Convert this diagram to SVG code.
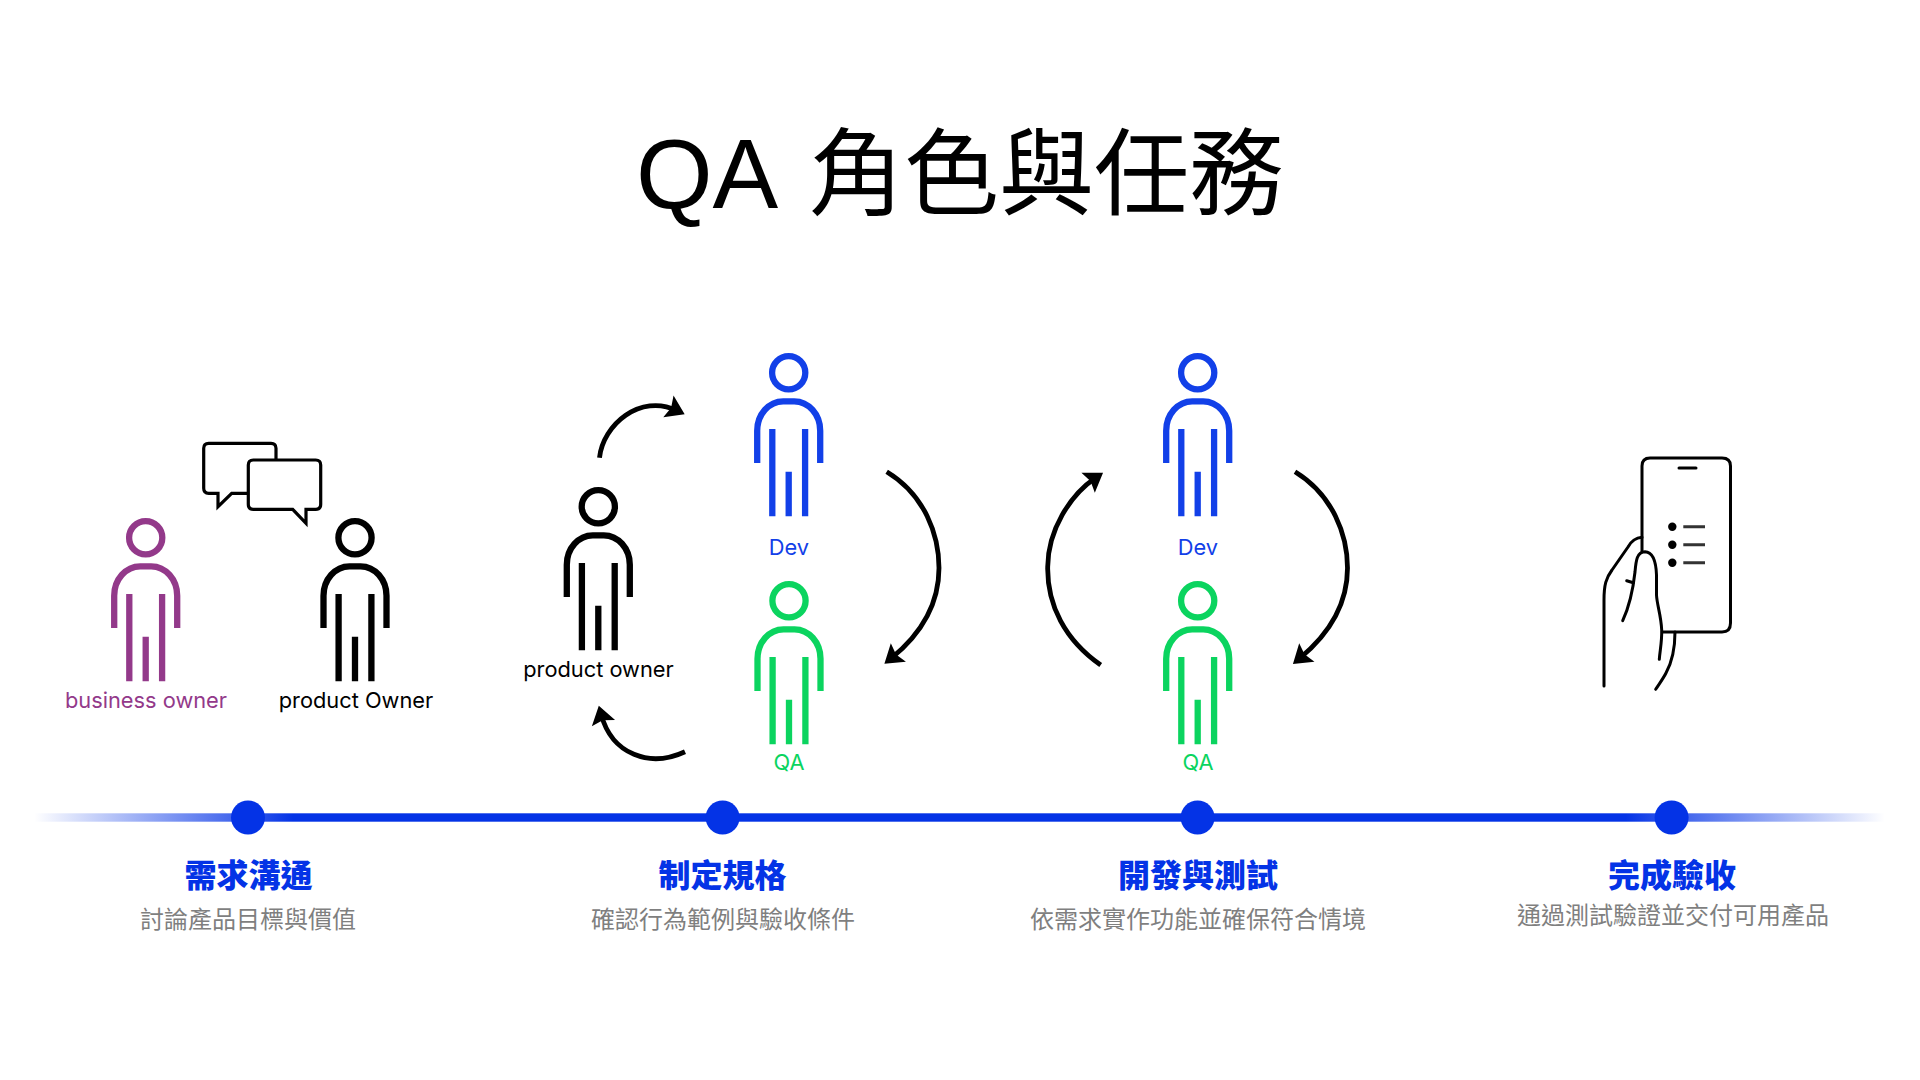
<svg xmlns="http://www.w3.org/2000/svg" width="1920" height="1080" viewBox="0 0 1920 1080">
<style>
text{font-family:"Liberation Sans","Noto Sans CJK TC",sans-serif;text-anchor:middle}
.lab{font-family:"Inter","Liberation Sans",sans-serif;font-size:21.8px}
.h{font-family:"Noto Sans CJK TC",sans-serif;font-size:32px;font-weight:900;fill:#0433e6}
.s{font-family:"Noto Sans CJK TC",sans-serif;font-size:24px;fill:#7f7f7f;font-weight:400}
.p{fill:none;stroke-width:6.3}
.arc{fill:none;stroke:#000;stroke-width:4.8;marker-end:url(#ah)}
.ln{fill:none;stroke:#000;stroke-width:3;stroke-linecap:round;stroke-linejoin:round}
.dot{fill:#0433e6}
</style>
<defs>
<marker id="ah" markerUnits="userSpaceOnUse" markerWidth="28" markerHeight="28" viewBox="-2 -14 28 28" refX="9.5" refY="0" orient="auto"><path d="M0-12 L18 0 L0 12 L3 0Z" fill="#000"/></marker>
<g id="person"><circle cx="0" cy="0" r="16.6"/><path d="M-31.5 90.3V58A26 29.4 0 0 1 -5.5 28.6H5.5A26 29.4 0 0 1 31.5 58V90.3M-16.4 56.3V143.6M16.4 56.3V143.6M0 99V143.6"/></g>
<linearGradient id="tl" gradientUnits="userSpaceOnUse" x1="34" y1="0" x2="1885" y2="0">
<stop offset="0" stop-color="#0433e6" stop-opacity="0"/><stop offset="0.115" stop-color="#0433e6" stop-opacity=".8"/><stop offset="0.14" stop-color="#0433e6"/><stop offset="0.86" stop-color="#0433e6"/><stop offset="0.885" stop-color="#0433e6" stop-opacity=".8"/><stop offset="1" stop-color="#0433e6" stop-opacity="0"/>
</linearGradient>
</defs>
<rect width="1920" height="1080" fill="#fff"/>
<text id="title" y="208" fill="#000" style="text-anchor:start"><tspan x="636" font-size="98.5">QA </tspan><tspan x="809" font-size="95">角色與任務</tspan></text>

<g id="connectors">
<path class="arc" d="M599.5 457.7C603 425 640 393 677 410.5"/>
<path class="arc" d="M685 751.7C650 768 612 755 601 714"/>
<path class="arc" d="M886.7 471.7C925 495 939 535 939 568C939 605 920 635 891 658.5"/>
<path class="arc" d="M1295 471.7C1333 495 1347.5 535 1347.5 568C1347.5 605 1328 635 1299.5 658.5"/>
<path class="arc" d="M1100.7 665C1065 640 1047 605 1047.7 566.7C1048 530 1070 495 1096 477.5"/>
</g>

<g id="timeline">
<rect x="34" y="813.3" width="1851" height="8.4" fill="url(#tl)"/>
<circle class="dot" cx="248" cy="817.5" r="17"/>
<circle class="dot" cx="722.6" cy="817.5" r="17"/>
<circle class="dot" cx="1197.6" cy="817.5" r="17"/>
<circle class="dot" cx="1671.6" cy="817.5" r="17"/>
</g>

<g id="node-business-owner"><use href="#person" x="145.7" y="537.7" class="p" stroke="#93398a"/><text class="lab" x="146" y="707.8" fill="#93398a">business owner</text></g>
<g id="node-product-owner-1"><use href="#person" x="355" y="537.7" class="p" stroke="#000"/><text class="lab" x="356" y="707.8" fill="#000">product Owner</text></g>
<g id="node-chat" fill="#fff" stroke="#000" stroke-width="3.2" stroke-linejoin="miter">
<path d="M209 443.3H271Q276 443.3 276 448.3V488.3Q276 493.3 271 493.3H231.7L218 506.7V493.3H208.7Q203.7 493.3 203.7 488.3V448.3Q203.7 443.3 208.7 443.3Z"/>
<path d="M253.3 460H315.7Q320.7 460 320.7 465V504.3Q320.7 509.3 315.7 509.3H306V523.3L292.7 509.3H253.3Q248.3 509.3 248.3 504.3V465Q248.3 460 253.3 460Z"/>
</g>
<g id="node-product-owner-2"><use href="#person" x="598.3" y="506.7" class="p" stroke="#000"/><text class="lab" x="598.5" y="676.8" fill="#000">product owner</text></g>
<g id="node-dev-1"><use href="#person" x="788.7" y="372.7" class="p" stroke="#1240e8"/><text class="lab" x="789" y="554.8" fill="#1240e8">Dev</text></g>
<g id="node-qa-1"><use href="#person" x="789" y="600.7" class="p" stroke="#0bd45f"/><text class="lab" x="789" y="769.8" fill="#0bd45f">QA</text></g>
<g id="node-dev-2"><use href="#person" x="1197.7" y="372.7" class="p" stroke="#1240e8"/><text class="lab" x="1198" y="554.8" fill="#1240e8">Dev</text></g>
<g id="node-qa-2"><use href="#person" x="1197.7" y="600.7" class="p" stroke="#0bd45f"/><text class="lab" x="1198" y="769.8" fill="#0bd45f">QA</text></g>

<g id="node-phone">
<path class="ln" d="M1642 552V466Q1642 458 1650 458H1722Q1730.5 458 1730.5 466V623Q1730.5 632 1722 632H1663"/>
<path class="ln" d="M1679 468H1696"/>
<circle cx="1672.3" cy="526.7" r="4.2"/><circle cx="1672.3" cy="544.7" r="4.2"/><circle cx="1672.3" cy="562.7" r="4.2"/>
<path d="M1683.3 526.7H1705M1683.3 544.7H1705M1683.3 562.7H1705" stroke="#333" stroke-width="3" fill="none"/>
<path class="ln" d="M1604 686V600C1604 585 1606 578 1612 570L1628 547C1632 540 1636 538 1642 537.3"/>
<path class="ln" d="M1622.7 620.7C1630 605 1633 590 1635 572C1636 560 1637 552 1645 551.7C1652 552 1656 560 1656.5 575V595C1657 605 1661 615 1661.7 630C1662 642 1660 650 1659.3 659.3"/>
<path class="ln" d="M1626.7 580.7L1633.3 582.7"/>
<path class="ln" d="M1675 632C1675 650 1672 662 1666 673C1663 679 1659 684 1655.7 689.3"/>
</g>

<g id="step-1"><text class="h" x="248.5" y="887">需求溝通</text><text class="s" x="248" y="928">討論產品目標與價值</text></g>
<g id="step-2"><text class="h" x="722.5" y="887">制定規格</text><text class="s" x="723" y="928">確認行為範例與驗收條件</text></g>
<g id="step-3"><text class="h" x="1198" y="887">開發與測試</text><text class="s" x="1198" y="928">依需求實作功能並確保符合情境</text></g>
<g id="step-4"><text class="h" x="1672" y="887">完成驗收</text><text class="s" x="1673" y="923.5">通過測試驗證並交付可用產品</text></g>
</svg>
